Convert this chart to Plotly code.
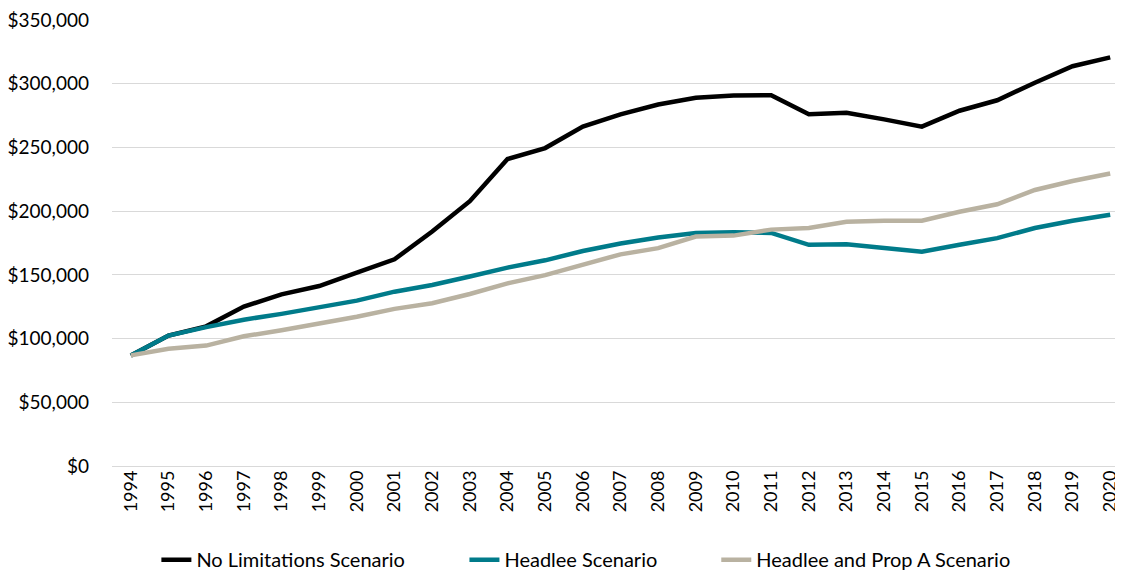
import plotly.graph_objects as go

years = [str(y) for y in range(1994, 2021)]

no_limitations = [86800, 102400, 109600, 125100, 134700, 141200, 151800, 162200, 184000, 207800,
                  240900, 249500, 266300, 275900, 283700, 288900, 290700, 290900, 276100, 277200,
                  272000, 266300, 278800, 287000, 300800, 313700, 320700]
headlee = [86800, 102400, 109000, 114800, 119400, 124400, 129800, 136800, 142000, 148700,
           155700, 161400, 168700, 174600, 179300, 182900, 183400, 182900, 173600, 174000,
           171000, 168100, 173600, 178800, 186800, 192500, 197100]
headlee_prop_a = [86800, 92000, 94500, 101800, 106500, 111400, 117100, 123300, 127700, 135000,
                  143300, 149800, 157500, 166100, 171000, 180100, 180800, 185500, 186800, 191700,
                  192500, 192500, 199500, 205400, 216600, 223600, 229500]

series_names = ["No Limitations Scenario", "Headlee Scenario", "Headlee and Prop A Scenario"]
colors = ["#000000", "#007b8a", "#b9b2a1"]
y_ticks = [0, 50000, 100000, 150000, 200000, 250000, 300000, 350000]
y_tick_text = ["$0", "$50,000", "$100,000", "$150,000", "$200,000", "$250,000", "$300,000", "$350,000"]

legend_ids = ["legend", "legend2", "legend3"]
legend_x = [0.0439, 0.3486, 0.5977]

fig = go.Figure()
for name, vals, c, lg in zip(series_names, [no_limitations, headlee, headlee_prop_a], colors, legend_ids):
    fig.add_trace(go.Scatter(x=years, y=vals, name=name, mode="lines", legend=lg,
                             line=dict(color=c, width=4.5), cliponaxis=False))

legend_common = dict(orientation="h", y=-0.21, xanchor="left", yanchor="middle",
                     font=dict(size=20), bgcolor="rgba(0,0,0,0)", itemwidth=30)

fig.update_layout(
    width=1115, height=590,
    margin=dict(l=104, r=0, t=8, b=132),
    paper_bgcolor="white", plot_bgcolor="white",
    font=dict(family="Lato, Open Sans, sans-serif", size=19, color="#000000"),
    showlegend=True,
    legend=dict(x=legend_x[0], **legend_common),
    legend2=dict(x=legend_x[1], **legend_common),
    legend3=dict(x=legend_x[2], **legend_common),
)
fig.update_xaxes(type="category", range=[-0.5, 26.34], tickangle=-90,
                 showgrid=False, showline=False, ticks="", tickfont=dict(size=18))
fig.update_yaxes(range=[0, 350000], tickvals=y_ticks, ticktext=y_tick_text,
                 showgrid=True, gridcolor="#d9d9d9", gridwidth=1.3, zeroline=True,
                 zerolinecolor="#d9d9d9", zerolinewidth=1.3, showline=False, ticks="",
                 ticklabelstandoff=22, ticklabeloverflow="allow", tickfont=dict(size=19))

fig.write_html("out.html")
